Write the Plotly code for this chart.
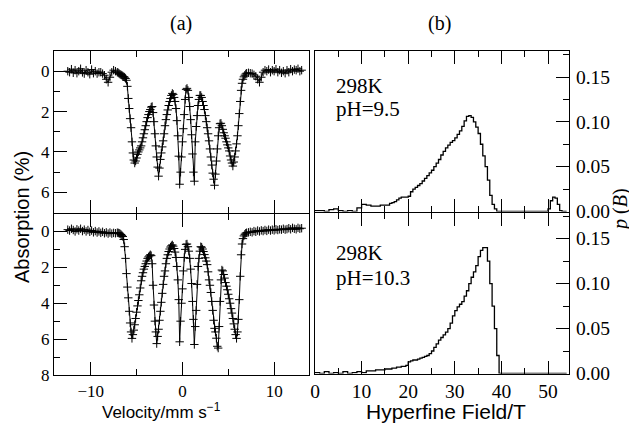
import plotly.graph_objects as go

# page shows the figure with an 8px body margin; design in reference pixels
REF_W, REF_H = 637, 423
OFF = 8
W, H = REF_W - OFF, REF_H - OFF

# ---------------- data ----------------
VEL_LEFT = [-12.5, -12.3, -12.1, -11.9, -11.7, -11.5, -11.3, -11.1, -10.9, -10.7,
            -10.5, -10.3, -10.1, -9.9, -9.7, -9.5, -9.3, -9.1, -8.9, -8.7,
            -8.5, -8.3, -8.1, -7.9, -7.7, -7.5, -7.3, -7.1]
VEL_MID = [-7.0, -6.9, -6.8, -6.7, -6.6, -6.5, -6.4, -6.3, -6.2, -6.1,
           -6.0, -5.9, -5.8, -5.7, -5.6, -5.5, -5.4, -5.3, -5.2, -5.1,
           -5.0, -4.9, -4.8, -4.7, -4.6, -4.5, -4.4, -4.3, -4.2, -4.1,
           -4.0, -3.9, -3.8, -3.7, -3.6, -3.5, -3.4, -3.3, -3.2, -3.1,
           -3.0, -2.9, -2.8, -2.7, -2.6, -2.5, -2.4, -2.3, -2.2, -2.1,
           -2.0, -1.9, -1.8, -1.7, -1.6, -1.5, -1.4, -1.3, -1.2, -1.1,
           -1.0, -0.9, -0.8, -0.7, -0.6, -0.5, -0.4, -0.3, -0.2, -0.1,
           0.0, 0.1, 0.2, 0.3, 0.4, 0.5, 0.6, 0.7, 0.8, 0.9,
           1.0, 1.1, 1.2, 1.3, 1.4, 1.5, 1.6, 1.7, 1.8, 1.9,
           2.0, 2.1, 2.2, 2.3, 2.4, 2.5, 2.6, 2.7, 2.8, 2.9,
           3.0, 3.1, 3.2, 3.3, 3.4, 3.5, 3.6, 3.7, 3.8, 3.9,
           4.0, 4.1, 4.2, 4.3, 4.4, 4.5, 4.6, 4.7, 4.8, 4.9,
           5.0, 5.1, 5.2, 5.3, 5.4, 5.5, 5.6, 5.7, 5.8, 5.9,
           6.0, 6.1, 6.2, 6.3, 6.4, 6.5, 6.6, 6.7, 6.8, 6.9,
           7.0]
VEL_RIGHT = [7.2, 7.4, 7.6, 7.8, 8.0, 8.2, 8.4, 8.6, 8.8, 9.0,
             9.2, 9.4, 9.6, 9.8, 10.0, 10.2, 10.4, 10.6, 10.8, 11.0,
             11.2, 11.4, 11.6, 11.8, 12.0, 12.2, 12.4, 12.6, 12.8, 13.0]

# absorption (%) pH = 9.5
ABS_PH95_LEFT = [0.0, 0.05, -0.1, 0.08, -0.05, 0.1, 0.0, -0.12, 0.06, 0.12,
                 -0.05, 0.05, 0.15, -0.08, 0.1, 0.0, 0.12, 0.05, 0.05, 0.12,
                 0.2, 0.4, 0.55, 0.3, 0.05, -0.05, 0.0, 0.05]
ABS_PH95_MID = [0.08, 0.12, 0.15, 0.18, 0.2, 0.24, 0.27, 0.3, 0.36, 0.45,
                0.75, 1.35, 1.85, 2.35, 2.8, 3.5, 4.05, 4.4, 4.55, 4.45,
                4.3, 4.12, 4.0, 3.9, 3.8, 3.7, 3.5, 3.3, 3.1, 2.9,
                2.7, 2.5, 2.3, 2.15, 2.0, 1.9, 1.78, 1.75, 2.05, 2.5,
                3.1, 3.7, 4.25, 4.75, 5.2, 4.8, 4.37, 4.05, 3.75, 3.45,
                3.1, 2.7, 2.4, 2.15, 1.92, 1.7, 1.5, 1.35, 1.2, 1.1,
                1.15, 1.3, 1.5, 1.85, 2.45, 3.2, 4.21, 5.6, 5.0, 4.25,
                3.5, 2.85, 2.15, 1.4, 0.9, 0.85, 0.95, 1.3, 1.75, 2.4,
                3.15, 4.1, 5.0, 5.45, 3.5, 2.74, 2.2, 1.7, 1.4, 1.2,
                1.2, 1.3, 1.5, 1.7, 1.9, 2.2, 2.5, 2.8, 3.1, 3.45,
                3.85, 4.25, 4.65, 5.05, 5.35, 5.65, 5.1, 4.45, 3.85, 3.2,
                2.8, 2.6, 2.58, 2.7, 2.88, 3.05, 3.2, 3.32, 3.5, 3.65,
                3.8, 3.95, 4.2, 4.4, 4.55, 4.7, 4.5, 4.25, 3.95, 3.6,
                3.2, 2.7, 2.1, 1.5, 0.95, 0.6, 0.4, 0.28, 0.2, 0.14,
                0.1]
ABS_PH95_RIGHT = [0.08, 0.1, 0.12, 0.18, 0.25, 0.4, 0.55, 0.3, 0.05, -0.05,
                  0.0, -0.08, 0.05, -0.05, 0.0, -0.1, 0.05, -0.05, 0.08, 0.0,
                  0.1, -0.05, 0.05, -0.1, 0.0, -0.08, -0.05, -0.12, 0.0, -0.05]

# absorption (%) pH = 10.3
ABS_PH103_LEFT = [-0.1, -0.05, -0.15, -0.08, 0.0, -0.12, -0.05, -0.15, -0.02, -0.1,
                  0.0, -0.08, 0.02, -0.05, 0.05, -0.02, 0.06, 0.0, 0.08, 0.02,
                  0.1, 0.05, 0.12, 0.06, 0.12, 0.08, 0.1, 0.07]
ABS_PH103_MID = [0.08, 0.1, 0.13, 0.17, 0.22, 0.28, 0.45, 0.85, 1.5, 2.35,
                 3.1, 3.7, 4.45, 5.1, 5.6, 5.96, 5.75, 5.5, 5.2, 4.85,
                 4.5, 4.15, 3.85, 3.53, 3.15, 2.75, 2.5, 2.3, 2.1, 1.95,
                 1.8, 1.65, 1.5, 1.42, 1.36, 1.3, 1.35, 1.8, 3.0, 4.1,
                 5.0, 5.6, 6.25, 5.85, 5.45, 4.95, 4.45, 3.95, 3.45, 2.95,
                 2.5, 2.2, 1.8, 1.5, 1.3, 1.12, 0.98, 0.87, 0.8, 0.75,
                 0.82, 0.95, 1.15, 1.45, 1.95, 2.7, 3.8, 6.15, 5.0, 4.0,
                 3.2, 2.2, 1.45, 1.0, 0.72, 0.7, 0.85, 1.1, 1.5, 2.1,
                 2.9, 3.9, 4.9, 6.3, 5.3, 4.4, 2.95, 1.95, 1.5, 1.1,
                 0.85, 0.88, 0.98, 1.12, 1.29, 1.47, 1.65, 1.85, 2.25, 2.7,
                 3.0, 3.4, 3.9, 4.4, 4.95, 5.4, 5.6, 5.95, 6.4, 6.5,
                 5.3, 3.9, 2.7, 2.15, 2.2, 2.4, 2.6, 2.85, 3.05, 3.25,
                 3.5, 3.75, 4.0, 4.3, 4.55, 4.85, 5.15, 5.45, 5.75, 5.96,
                 5.6, 4.9, 3.8, 2.5, 1.3, 0.7, 0.4, 0.25, 0.16, 0.1,
                 0.07]
ABS_PH103_RIGHT = [0.05, 0.02, 0.05, -0.02, 0.02, -0.05, 0.0, -0.06, -0.02, -0.08,
                   -0.03, -0.1, -0.05, -0.1, -0.06, -0.12, -0.08, -0.12, -0.1, -0.15,
                   -0.1, -0.13, -0.18, -0.12, -0.2, -0.15, -0.12, -0.2, -0.15, -0.18]

# hyperfine field distributions
FIELD_T = [0, 1, 2, 3, 4, 5, 6, 7, 8, 9, 10, 11, 12, 13, 14, 15,
           16, 16.5, 17, 17.5, 18, 18.5, 19, 19.5,
           20, 20.5, 21, 21.5, 22, 22.5, 23, 23.5,
           24, 24.5, 25, 25.5, 26, 26.5, 27, 27.5,
           28, 28.5, 29, 29.5, 30, 30.5, 31, 31.5,
           32, 32.5, 33, 33.5, 34, 34.5, 35, 35.5,
           36, 36.5, 37, 37.5, 38, 38.5, 39, 39.5, 40,
           41, 42, 43, 44, 45, 46, 47, 48, 49,
           50, 50.5, 51, 51.5, 52, 52.5, 53, 54]
PB_PH95 = [0.001, 0.001, 0.0, 0.002, 0.003, 0.001, 0.0, 0.001, 0.0, 0.004, 0.008, 0.007, 0.006, 0.006, 0.007, 0.007,
           0.009, 0.010, 0.011, 0.013, 0.015, 0.016, 0.016, 0.016,
           0.017, 0.022, 0.025, 0.027, 0.029, 0.031, 0.034, 0.037,
           0.040, 0.043, 0.046, 0.050, 0.054, 0.058, 0.063, 0.067,
           0.071, 0.074, 0.077, 0.079, 0.082, 0.086, 0.090, 0.095,
           0.101, 0.106, 0.107, 0.105, 0.100, 0.094, 0.087, 0.075,
           0.062, 0.050, 0.035, 0.018, 0.008, 0.003, 0.0, 0.0, 0.0,
           0.0, 0.0, 0.0, 0.0, 0.0, 0.0, 0.0, 0.0, 0.0,
           0.003, 0.012, 0.016, 0.015, 0.008, 0.001, 0.0, 0.0]
PB_PH103 = [0.001, 0.0, 0.002, 0.0, 0.001, 0.0, 0.002, 0.0, 0.001, 0.002, 0.001, 0.003, 0.003, 0.004, 0.004, 0.005,
            0.005, 0.006, 0.006, 0.007, 0.007, 0.008, 0.008, 0.009,
            0.013, 0.014, 0.015, 0.015, 0.016, 0.017, 0.018, 0.019,
            0.020, 0.022, 0.025, 0.029, 0.033, 0.037, 0.040, 0.043,
            0.046, 0.050, 0.056, 0.064, 0.070, 0.074, 0.077, 0.080,
            0.086, 0.092, 0.100, 0.107, 0.113, 0.120, 0.130, 0.137,
            0.140, 0.140, 0.125, 0.100, 0.075, 0.050, 0.020, 0.0, 0.0,
            0.0, 0.0, 0.0, 0.0, 0.0, 0.0, 0.0, 0.0, 0.0,
            0.0, 0.0, 0.0, 0.0, 0.0, 0.0, 0.0, 0.0]

VEL = VEL_LEFT + VEL_MID + VEL_RIGHT
ABS_PH95 = ABS_PH95_LEFT + ABS_PH95_MID + ABS_PH95_RIGHT
ABS_PH103 = ABS_PH103_LEFT + ABS_PH103_MID + ABS_PH103_RIGHT

PANEL_TEXT = [["298K", "pH=9.5"], ["298K", "pH=10.3"]]

# ---------------- figure ----------------
SERIF = "Liberation Serif, Times New Roman, serif"
SANS = "Liberation Sans, Arial, sans-serif"

def px_x(x):
    return (x - OFF) / W

def px_y(y):
    return 1 - (y - OFF) / H

fig = go.Figure()

mk = dict(symbol="cross-thin", size=6, line=dict(color="black", width=1), color="black")
fig.add_trace(go.Scatter(x=VEL, y=ABS_PH95, mode="lines+markers", marker=mk,
                         line=dict(color="black", width=1), xaxis="x", yaxis="y",
                         showlegend=False, hoverinfo="skip"))
fig.add_trace(go.Scatter(x=VEL, y=ABS_PH103, mode="lines+markers", marker=mk,
                         line=dict(color="black", width=1), xaxis="x2", yaxis="y2",
                         showlegend=False, hoverinfo="skip"))
fig.add_trace(go.Scatter(x=FIELD_T, y=PB_PH95, mode="lines", line_shape="hv",
                         line=dict(color="black", width=1.3), xaxis="x3", yaxis="y3",
                         showlegend=False, hoverinfo="skip"))
fig.add_trace(go.Scatter(x=FIELD_T, y=PB_PH103, mode="lines", line_shape="hv",
                         line=dict(color="black", width=1.3), xaxis="x4", yaxis="y4",
                         showlegend=False, hoverinfo="skip"))

LX = [px_x(54), px_x(309)]
RX = [px_x(315), px_x(569)]
TOP = px_y(51)

base = dict(showline=True, linecolor="black", linewidth=1, showgrid=False, zeroline=False,
            automargin=False, ticks="inside", tickcolor="black", tickwidth=1, ticklen=13)
left = dict(tickfont=dict(family=SERIF, size=17, color="black"), **base)
right = dict(tickfont=dict(family=SERIF, size=19.5, color="black"), **base)
minor = dict(ticks="inside", ticklen=6, tickcolor="black", tickwidth=1, showgrid=False)

fig.update_layout(
    template="none",
    width=W, height=H, margin=dict(l=0, r=0, t=0, b=0, autoexpand=False),
    paper_bgcolor="white", plot_bgcolor="white",
    xaxis=dict(domain=LX, anchor="y", range=[-14, 13.8], tickvals=[-10, 0, 10],
               showticklabels=False, mirror="ticks", minor=dict(tickvals=[-5, 5], **minor), **left),
    yaxis=dict(domain=[px_y(212.5), TOP], anchor="x", range=[7, -1], tickvals=[0, 2, 4, 6],
               mirror=True, minor=dict(tickvals=[1, 3, 5], **minor), **left),
    xaxis2=dict(domain=LX, anchor="y2", range=[-14, 13.8], tickvals=[-10, 0, 10],
                ticktext=["\u221210", "0", "10"], ticklabelstandoff=1,
                mirror="ticks", minor=dict(tickvals=[-5, 5], **minor), **left),
    yaxis2=dict(domain=[px_y(375), px_y(213.5)], anchor="x2", range=[8, -1], tickvals=[0, 2, 4, 6, 8],
                mirror=True, minor=dict(tickvals=[1, 3, 5, 7], **minor), **left),
    xaxis3=dict(domain=RX, anchor="y3", range=[0, 54.5], tickvals=[0, 10, 20, 30, 40, 50],
                showticklabels=False, mirror="ticks",
                minor=dict(tickvals=[5, 15, 25, 35, 45], **minor), **right),
    yaxis3=dict(domain=[px_y(211.5), TOP], anchor="x3", side="right", range=[0, 0.179],
                tickvals=[0, 0.05, 0.10, 0.15], ticktext=["0.00", "0.05", "0.10", "0.15"],
                ticklabelstandoff=2,
                mirror=True, minor=dict(tickvals=[0.025, 0.075, 0.125, 0.175], **minor), **right),
    xaxis4=dict(domain=RX, anchor="y4", range=[0, 54.5], tickvals=[0, 10, 20, 30, 40, 50],
                ticklabelstandoff=0,
                mirror="ticks", minor=dict(tickvals=[5, 15, 25, 35, 45], **minor), **right),
    yaxis4=dict(domain=[px_y(373.5), px_y(212.5)], anchor="x4", side="right", range=[0, 0.179],
                tickvals=[0, 0.05, 0.10, 0.15], ticktext=["0.00", "0.05", "0.10", "0.15"],
                ticklabelstandoff=2,
                mirror=True, minor=dict(tickvals=[0.025, 0.075, 0.125, 0.175], **minor), **right),
)

ann = []
ann.append(dict(text="(a)", x=px_x(181), y=px_y(24), font=dict(family=SERIF, size=20)))
ann.append(dict(text="(b)", x=px_x(439), y=px_y(24), font=dict(family=SERIF, size=20)))
ann.append(dict(text="Absorption (%)", x=px_x(22), y=px_y(217), textangle=-90,
                font=dict(family=SANS, size=20)))
ann.append(dict(text="Velocity/mm s<sup>\u22121</sup>", x=px_x(161), y=px_y(410.5),
                font=dict(family=SANS, size=17)))
ann.append(dict(text="Hyperfine Field/T", x=px_x(446), y=px_y(411.5),
                font=dict(family=SANS, size=21)))
ann.append(dict(text="<i>p</i> (<i>B</i>)", x=px_x(621), y=px_y(210), textangle=-90,
                font=dict(family=SERIF, size=20)))
for lines, (y1, y2) in zip(PANEL_TEXT, [(86, 109), (253, 278)]):
    ann.append(dict(text=lines[0], x=px_x(334), y=px_y(y1), xanchor="left",
                    font=dict(family=SERIF, size=21)))
    ann.append(dict(text=lines[1], x=px_x(334), y=px_y(y2), xanchor="left",
                    font=dict(family=SERIF, size=21)))
for a in ann:
    a.setdefault("xanchor", "center")
    a.update(xref="paper", yref="paper", yanchor="middle", showarrow=False)
    a["font"].setdefault("color", "black")
fig.update_layout(annotations=ann)

fig.write_html("out.html")
